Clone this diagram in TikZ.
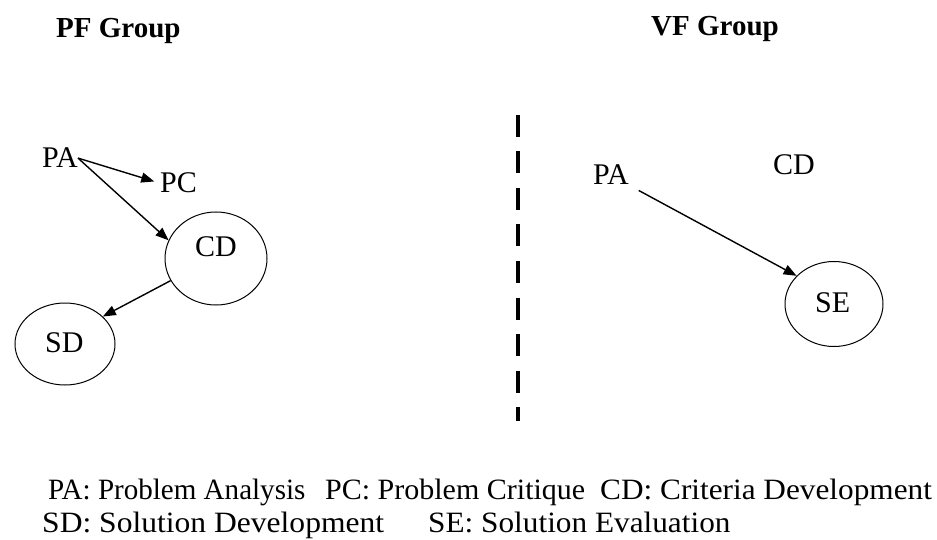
\documentclass[tikz,border=0pt]{standalone}
\usepackage{fontspec}
\setmainfont{Liberation Serif}
\usetikzlibrary{arrows.meta,shapes.geometric}
\begin{document}
\begin{tikzpicture}[x=1pt,y=-1pt,
  lbl/.style={font=\fontsize{30}{33}\selectfont, inner sep=0pt, anchor=base west},
  legend/.style={font=\fontsize{29.5}{33}\selectfont, inner sep=0pt, anchor=base west},
  ttl/.style={font=\fontsize{29}{32}\selectfont\bfseries, inner sep=0pt, anchor=base west},
  bubble/.style={draw, ellipse, line width=1pt, inner sep=0pt},
  flow/.style={-{Triangle[length=13pt,width=10pt]}, line width=1.4pt},
  divider/.style={line width=4pt, dash pattern=on 22pt off 14.5pt}]
\useasboundingbox (0,0) rectangle (937,540);
% group titles
\node[ttl] (pft) at (56,38) {PF Group};
\node[ttl] (vft) at (651,36) {VF Group};
% PF group
\node[lbl] (pa1) at (42,168) {PA};
\node[lbl] (pc1) at (160,193) {PC};
\node[bubble, minimum width=102pt, minimum height=93pt] (cd1) at (216,258.5) {};
\node[lbl] (cd1t) at (195,257) {CD};
\node[bubble, minimum width=100pt, minimum height=82pt] (sd1) at (65,344) {};
\node[lbl] (sd1t) at (45,352) {SD};
\draw[flow, shorten >=6pt] (pa1.east) -- (pc1.west);
\draw[flow] (pa1.east) -- (cd1.159);
\draw[flow] (cd1.206) -- (sd1.36);
% divider between the two groups
\coordinate (dtop) at (518,115);
\coordinate (dbot) at (518,421);
\draw[divider] (dtop) -- (dbot);
% VF group
\node[lbl] (pa2) at (593,185) {PA};
\node[lbl] (cd2) at (773,175) {CD};
\node[bubble, minimum width=98pt, minimum height=85pt] (se2) at (834,304) {};
\node[lbl] (se2t) at (815,312) {SE};
\draw[flow, shorten <=11pt] (pa2.south east) -- (se2.143);
% legend
\node[legend] (lgpa) at (48,499) {\scalebox{0.985}[1]{PA: Problem Analysis}};
\node[legend] (lgpc) at (325,499) {\scalebox{1.017}[1]{PC: Problem Critique}};
\node[legend] (lgcd) at (600,499) {\scalebox{1.06}[1]{CD: Criteria Development}};
\node[legend] (lgsd) at (42,532) {\scalebox{1.07}[1]{SD: Solution Development}};
\node[legend] (lgse) at (428,532) {\scalebox{1.06}[1]{SE: Solution Evaluation}};
\end{tikzpicture}
\end{document}
